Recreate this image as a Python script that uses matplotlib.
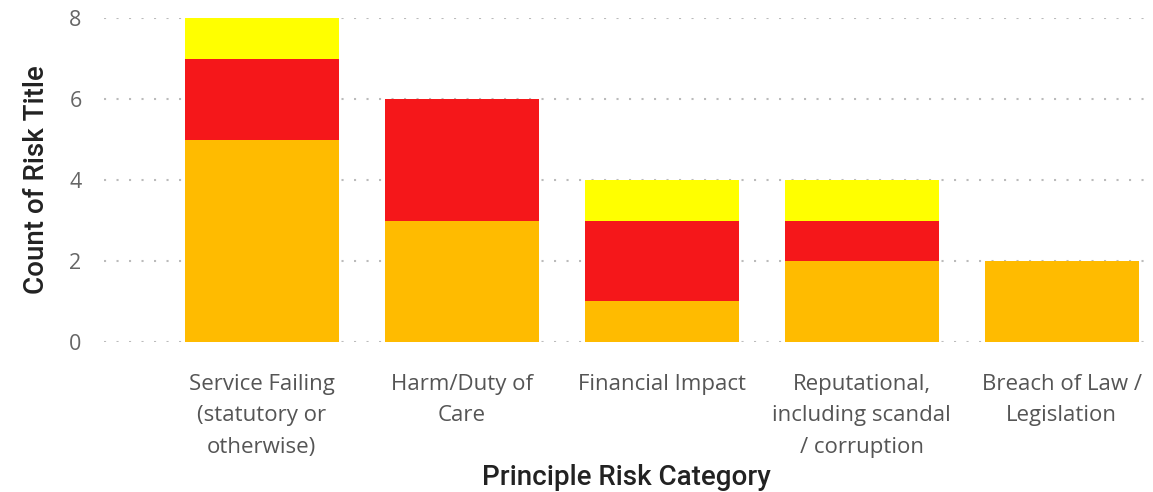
import numpy as np
import matplotlib
matplotlib.use("Agg")
import matplotlib.pyplot as plt

categories = ["Service Failing\n(statutory or\notherwise)", "Harm/Duty of\nCare",
              "Financial Impact", "Reputational,\nincluding scandal\n/ corruption",
              "Breach of Law /\nLegislation"]
orange_vals = [5, 3, 1, 2, 2]
red_vals = [2, 3, 2, 1, 0]
yellow_vals = [1, 0, 1, 1, 0]

fig = plt.figure(figsize=(11.53, 4.92), dpi=100)
ax = fig.add_axes([0.090, 0.305, 0.907, 0.658])

x = np.arange(len(categories))
w = 0.77
orange = np.array(orange_vals)
red = np.array(red_vals)
yellow = np.array(yellow_vals)
ax.bar(x, orange, w, color='#FFBB00', zorder=2)
ax.bar(x, red, w, bottom=orange, color='#F5171A', zorder=2)
ax.bar(x, yellow, w, bottom=orange + red, color='#FFFF00', zorder=2)

ax.set_ylim(0, 8)
ax.set_xlim(-0.79, 4.44)
ax.set_yticks([0, 2, 4, 6, 8])
ax.yaxis.grid(True, color='#bbbbbb', linestyle=(0, (1, 5)), linewidth=1.5, zorder=0)
for s in ax.spines.values():
    s.set_visible(False)
ax.tick_params(length=0)
ax.tick_params(axis='y', pad=16, labelsize=15.5, labelcolor='#666666')
ax.tick_params(axis='x', pad=23, labelsize=16, labelcolor='#555555')
ax.set_xticks(x)
ax.set_xticklabels(categories, fontfamily='Open Sans', linespacing=1.66)
for t in ax.get_yticklabels():
    t.set_fontfamily('Open Sans')

ax.set_ylabel('Count of Risk Title', fontsize=20, color='#222222', labelpad=14,
              fontfamily='Roboto', fontweight='medium')
ax.set_xlabel('Principle Risk Category', fontsize=20, color='#222222', labelpad=4,
              fontfamily='Roboto', fontweight='medium')

fig.savefig('out.png', dpi=100)
